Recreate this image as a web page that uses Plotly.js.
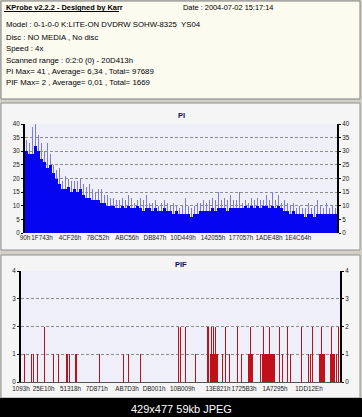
<!DOCTYPE html>
<html><head><meta charset="utf-8">
<script src="https://cdn.plot.ly/plotly-3.0.1.min.js"></script>
<style>html,body{margin:0;padding:0;background:#D4D0C8;}#chart{width:362px;height:417px;}</style>
</head><body><div id="chart"></div>
<script>
// ---- data ----
const infoTitle = "KProbe v2.2.2 - Designed by Karr";
const infoLines = [
  "Model : 0-1-0-0 K:LITE-ON DVDRW SOHW-8325  YS04",
  "Disc : NO MEDIA , No disc",
  "Speed : 4x",
  "Scanned range : 0:2:0 (0) - 20D413h",
  "PI Max= 41 , Average= 6,34 , Total= 97689",
  "PIF Max= 2 , Average= 0,01 , Total= 1669"
];
const infoDate = "Date : 2004-07-02 15:17:14";
const footerText = "429x477 59kb JPEG";

const piBase = [30,29,29,32,30,27,26,24,25,22,20,
  18,16,16,17,15,16,15,16,14,13,
  13,12,12,12,11,11,10,10,10,9,
  9,10,9,10,9,9,10,9,8,9,
  9,8,9,8,8,9,8,8,7,8,
  7,7,7,7,6,7,7,8,8,8,
  8,9,8,9,9,9,8,9,9,9,
  9,9,10,9,10,9,10,9,10,10,
  9,10,9,10,9,8,8,7,8,7,
  7,7,6,7,7,6,7,7,7,7,7,7,7];
const piPeak = [34,33,39,41,36,33,30,33,29,25,23,
  24,19,21,20,19,19,19,20,18,17,
  18,16,15,16,16,14,14,13,13,12,
  12,13,12,14,13,11,12,13,12,14,
  11,11,12,10,11,12,11,10,11,10,
  9,10,13,10,9,10,11,11,12,11,
  12,13,12,15,12,13,12,14,12,12,
  15,11,12,11,13,12,13,12,12,14,
  12,15,12,14,11,12,11,10,11,9,
  10,9,9,11,9,10,12,10,9,11,9,10,9];
const piTickVals = [-0.5,5.17,14.5,23.83,33.5,42.83,52.17,62.17,71.5,80.83,90.5];
const piTickText = ["90h","1F743h","4CF26h","7BC52h","ABC56h","DB847h","10D449h","142055h","177057h","1ADE48h","1E4C64h"];

const pifIdx = [3,10,12,16,23,32,37,45,46,48,54,55,78,102,107,119,157,159,164,174,186,187,189,190,191,192,193,194,195,196,201,204,208,216,220,227,228,229,230,231,239,241,242,243,244,245,246,247,248,249,250,251,252,253,258,261,266,269,280,287,289,291,298,299,300,301,302,303,309,310,311,312,313,315,317];
const pifVal = [1,1,1,1,2,1,1,1,1,1,1,1,1,1,1,1,2,2,2,1,2,2,1,2,1,2,1,2,1,1,1,2,1,2,1,1,1,2,1,1,1,1,2,1,1,1,1,1,2,1,1,1,1,1,2,1,2,1,2,1,1,2,1,1,2,1,1,1,1,2,1,1,1,1,2];
const pifTickVals = [-0.5,22.2,49,75.2,105.5,132.5,161,196.5,222.5,253.5,287.5];
const pifTickText = ["1093h","25E10h","51318h","7D871h","AB7D3h","DB001h","10B009h","13E821h","1725B3h","1A7295h","1DD12Eh"];

// ---- layout helpers ----
const W = 362, H = 417;
const px = p => p / W;
const py = p => 1 - p / H;
const FONT = "Liberation Sans, Arial, sans-serif";

const piIdx = piBase.map((_, i) => i);

const traces = [
  {type:'bar', x: piIdx, y: piPeak, width: 0.6, marker:{color:'#7C7CD8', line:{width:0}}, xaxis:'x', yaxis:'y', hoverinfo:'skip'},
  {type:'bar', x: piIdx, y: piBase, width: 1.0, marker:{color:'#0505F2', line:{width:0}}, xaxis:'x', yaxis:'y2', hoverinfo:'skip'},
  {type:'bar', x: pifIdx, y: pifVal, width: 1.0, marker:{color:'#C0101A', line:{width:0}}, xaxis:'x2', yaxis:'y3', hoverinfo:'skip'},
  {type:'scatter', mode:'markers', x: [], y: [], xaxis:'x2', yaxis:'y4', hoverinfo:'skip'}
];

const tickFont = {family: FONT, size: 6.3, color: '#1a1a1a'};
const piX0 = 25, piX1 = 337, piTop = 124, piBot = 233;
const pfX0 = 21, pfX1 = 340, pfTop = 271, pfBot = 382;

const shapes = [
  {type:'rect', xref:'paper', yref:'paper', x0:px(1), x1:px(360), y0:py(1), y1:py(99), fillcolor:'#FBFBF0', line:{color:'#808080', width:1}, layer:'below'},
  {type:'rect', xref:'paper', yref:'paper', x0:px(1), x1:px(360), y0:py(103), y1:py(250), fillcolor:'#F5F5F5', line:{color:'#909090', width:1}, layer:'below'},
  {type:'rect', xref:'paper', yref:'paper', x0:px(1), x1:px(360), y0:py(255), y1:py(398), fillcolor:'#F5F5F5', line:{color:'#909090', width:1}, layer:'below'},
  {type:'rect', xref:'paper', yref:'paper', x0:px(piX0), x1:px(piX1), y0:py(piTop), y1:py(piBot), fillcolor:'#EFEFF9', line:{width:0}, layer:'below'},
  {type:'rect', xref:'paper', yref:'paper', x0:px(pfX0), x1:px(pfX1), y0:py(pfTop), y1:py(pfBot), fillcolor:'#EFEFF9', line:{width:0}, layer:'below'},
  {type:'rect', xref:'paper', yref:'paper', x0:0, x1:1, y0:0, y1:py(398), fillcolor:'#000000', line:{width:0}, layer:'below'},
  {type:'line', xref:'paper', yref:'paper', x0:px(4), x1:px(119), y0:py(11.5), y1:py(11.5), line:{color:'#000', width:1}}
];

const annotations = [];
annotations.push({xref:'paper', yref:'paper', x:px(4), y:py(7.5), xanchor:'left', yanchor:'middle', showarrow:false,
  text:'<b>'+infoTitle+'</b>', font:{family:FONT, size:7.4, color:'#000'}});
const lineY = [25, 37, 48.5, 60, 71.5, 82.5];
infoLines.forEach((t, i) => annotations.push({xref:'paper', yref:'paper', x:px(4), y:py(lineY[i]), xanchor:'left', yanchor:'middle', showarrow:false,
  text:t, font:{family:FONT, size:7.8, color:'#000'}}));
annotations.push({xref:'paper', yref:'paper', x:px(181), y:py(7.5), xanchor:'left', yanchor:'middle', showarrow:false,
  text:infoDate, font:{family:FONT, size:7.4, color:'#000'}});
annotations.push({xref:'paper', yref:'paper', x:px(181), y:py(115), xanchor:'center', yanchor:'middle', showarrow:false,
  text:'<b>PI</b>', font:{family:FONT, size:7.5, color:'#101060'}});
annotations.push({xref:'paper', yref:'paper', x:px(181), y:py(264), xanchor:'center', yanchor:'middle', showarrow:false,
  text:'<b>PIF</b>', font:{family:FONT, size:7.5, color:'#101060'}});
annotations.push({xref:'paper', yref:'paper', x:px(181), y:py(408.5), xanchor:'center', yanchor:'middle', showarrow:false,
  text:footerText, font:{family:FONT, size:11, color:'#FFFFFF'}});

const gridCommon = {showgrid:true, gridcolor:'#8C8C8C', griddash:'3px,2px', gridwidth:1, zeroline:false};

const layout = {
  width: W, height: H, margin:{l:0, r:0, t:0, b:0},
  paper_bgcolor:'#D4D0C8', plot_bgcolor:'rgba(0,0,0,0)',
  showlegend:false, barmode:'overlay', bargap:0,
  xaxis:{domain:[px(piX0), px(piX1)], anchor:'y', range:[-0.5, piBase.length-0.5], tickvals:piTickVals, ticktext:piTickText,
    tickfont:tickFont, ticks:'', showgrid:false, zeroline:false, showline:false, fixedrange:true, tickangle:0, automargin:false},
  yaxis:Object.assign({domain:[py(piBot), py(piTop)], anchor:'x', range:[0,40], dtick:5, tick0:0, tickfont:tickFont,
    showline:true, linecolor:'#000', linewidth:2, ticks:'outside', ticklen:2, tickcolor:'#000', fixedrange:true, automargin:false}, gridCommon),
  yaxis2:{overlaying:'y', anchor:'x', side:'right', range:[0,40], dtick:5, tick0:0, tickfont:tickFont, showgrid:false, zeroline:false,
    showline:true, linecolor:'#000', linewidth:2, ticks:'outside', ticklen:2, tickcolor:'#000', fixedrange:true, automargin:false},
  xaxis2:{domain:[px(pfX0), px(pfX1)], anchor:'y3', range:[-0.5, 318.5], tickvals:pifTickVals, ticktext:pifTickText,
    tickfont:tickFont, ticks:'', showgrid:false, zeroline:false, showline:true, linecolor:'#555', linewidth:1, fixedrange:true, tickangle:0, automargin:false},
  yaxis3:Object.assign({domain:[py(pfBot), py(pfTop)], anchor:'x2', range:[0,4], dtick:1, tick0:0, tickfont:tickFont,
    showline:true, linecolor:'#000', linewidth:2, ticks:'outside', ticklen:2, tickcolor:'#000', fixedrange:true, automargin:false}, gridCommon),
  yaxis4:{overlaying:'y3', anchor:'x2', side:'right', range:[0,4], dtick:1, tick0:0, tickfont:tickFont, showgrid:false, zeroline:false,
    showline:true, linecolor:'#000', linewidth:2, ticks:'outside', ticklen:2, tickcolor:'#000', fixedrange:true, automargin:false},
  shapes: shapes,
  annotations: annotations
};

Plotly.newPlot('chart', traces, layout, {displayModeBar:false, staticPlot:true});
</script>
</body></html>
